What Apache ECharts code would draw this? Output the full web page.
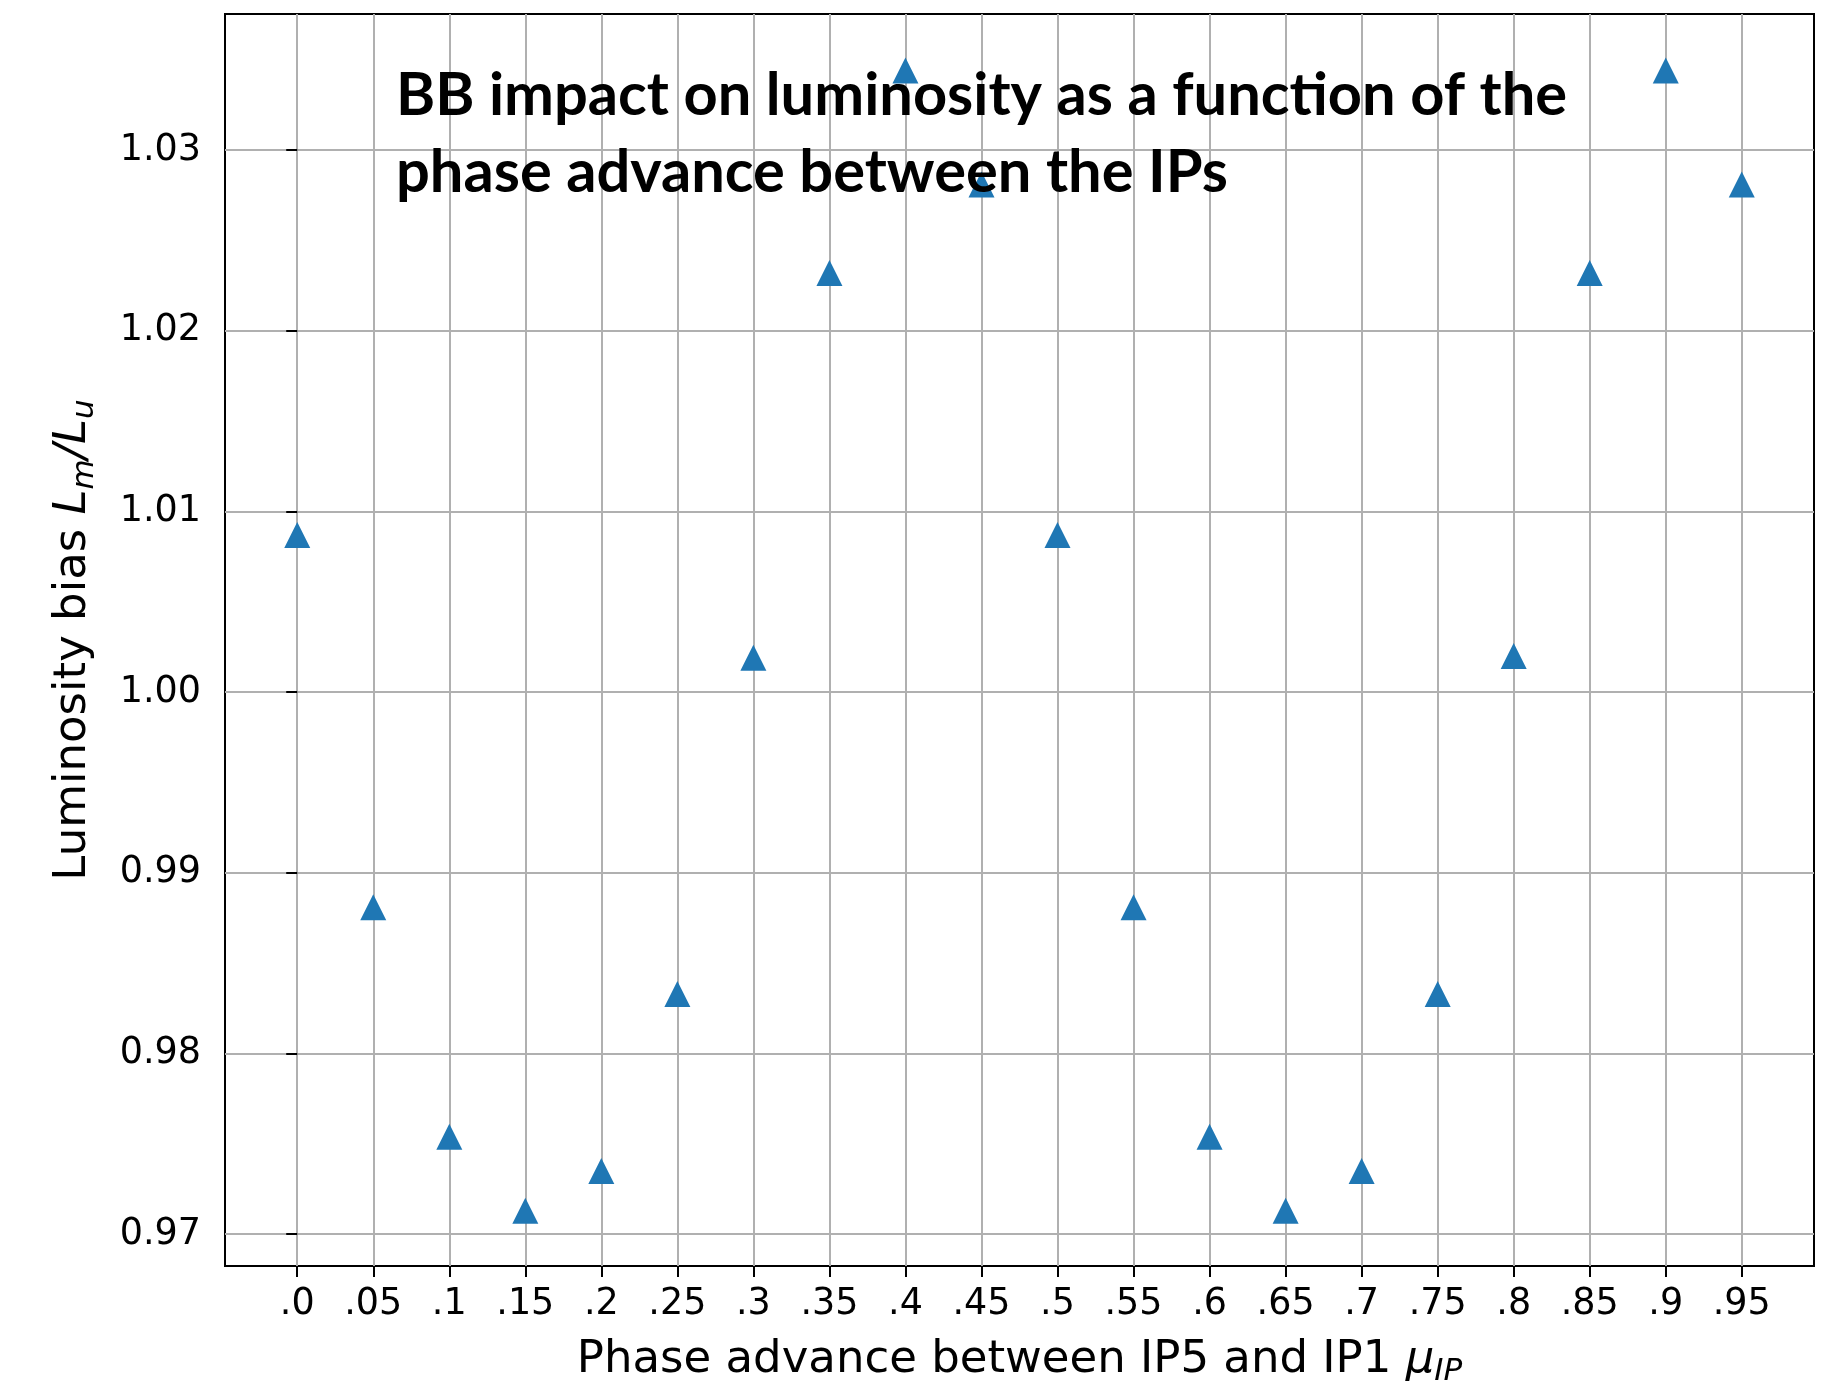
<!DOCTYPE html>
<html>
<head>
<meta charset="utf-8">
<script src="https://cdn.jsdelivr.net/npm/echarts@6/dist/echarts.min.js"></script>
<style>
html,body{margin:0;padding:0;background:#fff;}
#chart{width:1835px;height:1392px;}
</style>
</head>
<body>
<div id="chart"></div>
<script>
// ---- data ----
const phaseAdvance = [0.00, 0.05, 0.10, 0.15, 0.20, 0.25, 0.30, 0.35, 0.40, 0.45,
                      0.50, 0.55, 0.60, 0.65, 0.70, 0.75, 0.80, 0.85, 0.90, 0.95];
const luminosityBias = [1.0087, 0.9881, 0.9754, 0.9713, 0.9735, 0.9833, 1.0019, 1.0232, 1.0344, 1.0281,
                        1.0087, 0.9881, 0.9754, 0.9713, 0.9735, 0.9833, 1.0020, 1.0232, 1.0344, 1.0281];
const xTicks = [0.00, 0.05, 0.10, 0.15, 0.20, 0.25, 0.30, 0.35, 0.40, 0.45,
                0.50, 0.55, 0.60, 0.65, 0.70, 0.75, 0.80, 0.85, 0.90, 0.95];
const xTickLabels = ['.0', '.05', '.1', '.15', '.2', '.25', '.3', '.35', '.4', '.45',
                     '.5', '.55', '.6', '.65', '.7', '.75', '.8', '.85', '.9', '.95'];
const yTicks = [0.97, 0.98, 0.99, 1.00, 1.01, 1.02, 1.03];
const yTickLabels = ['0.97', '0.98', '0.99', '1.00', '1.01', '1.02', '1.03'];
const titleText = 'BB impact on luminosity as a function of the\nphase advance between the IPs';

// ---- chart ----
function labelFor(ticks, labels, v) {
  let best = 0, d = Infinity;
  ticks.forEach((t, i) => { const dd = Math.abs(t - v); if (dd < d) { d = dd; best = i; } });
  return labels[best];
}
const chart = echarts.init(document.getElementById('chart'), null, {renderer: 'canvas'});
const tickFont = {fontFamily: 'DejaVu Sans', fontSize: 36.5, color: '#000'};
const nameRich = {
  it: {fontFamily: 'DejaVu Sans', fontStyle: 'italic', fontSize: 45, lineHeight: 54},
  sub: {fontFamily: 'DejaVu Sans', fontStyle: 'italic', fontSize: 31, lineHeight: 31, verticalAlign: 'bottom'}
};
chart.setOption({
  animation: false,
  backgroundColor: '#fff',
  title: {
    text: titleText,
    left: 396, top: 57, padding: 0,
    textStyle: {fontFamily: 'Lato', fontWeight: 'bold', fontSize: 59.6, lineHeight: 77, color: '#000'}
  },
  grid: {left: 225, top: 14, right: 21, bottom: 119, show: true, borderColor: '#000', borderWidth: 2, backgroundColor: 'transparent'},
  xAxis: {
    type: 'value', min: -0.0475, max: 0.9975,
    axisLine: {show: false},
    axisTick: {show: true, length: 11, customValues: xTicks, lineStyle: {color: '#000', width: 2}},
    axisLabel: Object.assign({margin: 20, customValues: xTicks,
      formatter: v => labelFor(xTicks, xTickLabels, v)}, tickFont),
    splitLine: {show: true, lineStyle: {color: '#b0b0b0', width: 2}},
    name: 'Phase advance between IP5 and IP1 {it|μ}{sub|IP}',
    nameLocation: 'middle', nameGap: 67,
    nameTextStyle: {fontFamily: 'DejaVu Sans', fontSize: 45, lineHeight: 54, color: '#000', rich: nameRich}
  },
  yAxis: {
    type: 'value', min: 0.96824, max: 1.03753,
    axisLine: {show: false},
    axisTick: {show: true, length: 11, customValues: yTicks, lineStyle: {color: '#000', width: 2}},
    axisLabel: Object.assign({margin: 24, customValues: yTicks,
      formatter: v => labelFor(yTicks, yTickLabels, v)}, tickFont),
    splitLine: {show: true, lineStyle: {color: '#b0b0b0', width: 2}},
    name: 'Luminosity bias {it|L}{sub|m}{it|/L}{sub|u}',
    nameLocation: 'middle', nameGap: 125, nameRotate: 90,
    nameTextStyle: {fontFamily: 'DejaVu Sans', fontSize: 45, lineHeight: 54, color: '#000', rich: nameRich}
  },
  series: [{
    type: 'scatter',
    data: phaseAdvance.map((x, i) => [x, luminosityBias[i]]),
    symbol: 'triangle', symbolSize: 26,
    itemStyle: {color: '#1f77b4', opacity: 1},
    z: 3
  }]
});
</script>
</body>
</html>
